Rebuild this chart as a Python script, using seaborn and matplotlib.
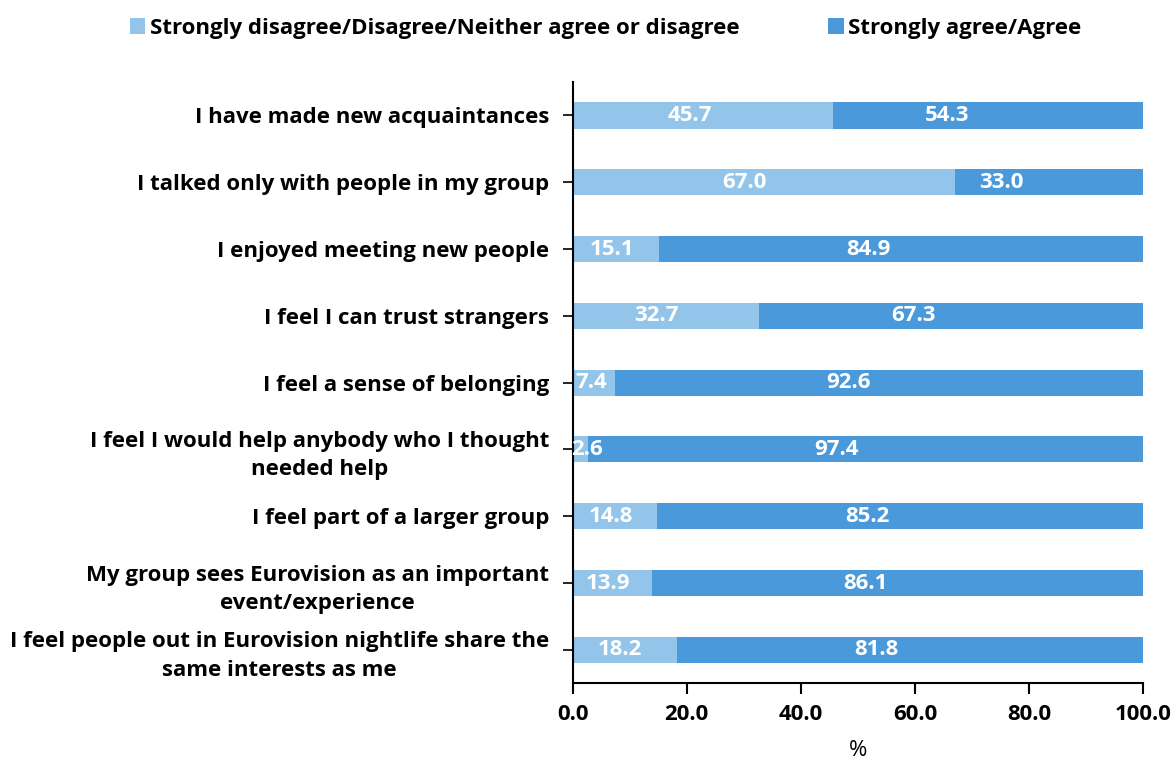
import seaborn as sns
import matplotlib.pyplot as plt
import pandas as pd

categories = [
    "I have made new acquaintances",
    "I talked only with people in my group",
    "I enjoyed meeting new people",
    "I feel I can trust strangers",
    "I feel a sense of belonging",
    "I feel I would help anybody who I thought\nneeded help",
    "I feel part of a larger group",
    "My group sees Eurovision as an important\nevent/experience",
    "I feel people out in Eurovision nightlife share the\nsame interests as me",
]
disagree = [45.7, 67.0, 15.1, 32.7, 7.4, 2.6, 14.8, 13.9, 18.2]
agree = [54.3, 33.0, 84.9, 67.3, 92.6, 97.4, 85.2, 86.1, 81.8]
series_names = ["Strongly disagree/Disagree/Neither agree or disagree", "Strongly agree/Agree"]
xticks = [0, 20, 40, 60, 80, 100]

light = "#93C4EA"
dark = "#4A9ADB"

df = pd.DataFrame({"item": categories, "disagree": disagree, "agree": agree})
df["total"] = df["disagree"] + df["agree"]

sns.set_style("white")
plt.rcParams["font.family"] = ["Open Sans", "DejaVu Sans"]
plt.rcParams["text.color"] = "black"
plt.rcParams["axes.labelcolor"] = "black"
plt.rcParams["xtick.color"] = "black"
plt.rcParams["ytick.color"] = "black"

fig = plt.figure(figsize=(11.76, 7.6), dpi=100)
ax = fig.add_axes([0.487, 0.101, 0.485, 0.791])

# stacked: full bar in dark, the disagree part drawn over it in light
sns.barplot(data=df, y="item", x="total", color=dark, width=0.39, ax=ax,
            label=series_names[1], saturation=1, linewidth=0)
sns.barplot(data=df, y="item", x="disagree", color=light, width=0.39, ax=ax,
            label=series_names[0], saturation=1, linewidth=0)

# labels in the original sit slightly left of each segment's middle
for i, (d, a) in enumerate(zip(disagree, agree)):
    ax.text(max(0.9 * d / 2, 2.5), i, f"{d:.1f}", ha="center", va="center",
            color="white", fontsize=16, fontweight="bold", zorder=5)
    ax.text(0.9 * (d + a / 2), i, f"{a:.1f}", ha="center", va="center",
            color="white", fontsize=16, fontweight="bold", zorder=5)

ax.set_xlim(0, 100)
ax.set_ylim(8.5, -0.5)
ax.set_xticks(xticks)
ax.set_xticklabels([f"{t:.1f}" for t in xticks], fontsize=16, fontweight="bold")
ax.set_yticklabels(categories, fontsize=16, fontweight="bold",
                   multialignment="center", linespacing=1.45)
ax.set_ylabel("")
ax.set_xlabel("%", fontsize=16, labelpad=11)

for s in ["top", "right"]:
    ax.spines[s].set_visible(False)
for s in ["left", "bottom"]:
    ax.spines[s].set_color("black")
    ax.spines[s].set_linewidth(1.5)
ax.tick_params(axis="x", bottom=True, length=8, width=1.5, direction="out", pad=7)
ax.tick_params(axis="y", left=True, length=7, width=1.2, direction="out", pad=10)

handles, labels = ax.get_legend_handles_labels()
order = [labels.index(n) for n in series_names]
ax.legend([handles[i] for i in order], [labels[i] for i in order],
          loc="center", bbox_to_anchor=(0.515, 0.963), bbox_transform=fig.transFigure,
          ncol=2, frameon=False, handlelength=0.7, handleheight=0.7,
          handletextpad=0.2, columnspacing=4.0,
          prop={"size": 16, "weight": "bold"})

fig.savefig("out.png", dpi=100)
